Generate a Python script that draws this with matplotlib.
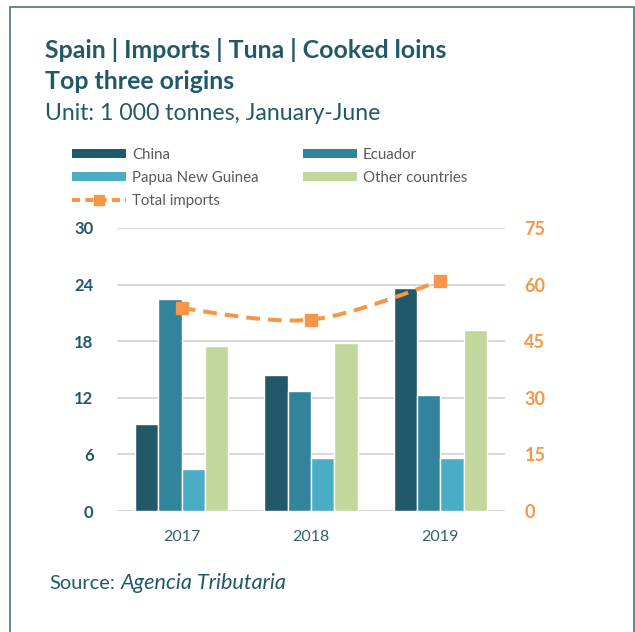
import matplotlib
matplotlib.use('Agg')
import matplotlib.pyplot as plt
from matplotlib.path import Path
from matplotlib.patches import PathPatch, Rectangle, Patch
from matplotlib.lines import Line2D
import numpy as np

# ---- data ----
years = ['2017', '2018', '2019']
china = [9.2, 14.45, 23.6]
ecuador = [22.5, 12.75, 12.25]
png = [4.5, 5.65, 5.65]
other = [17.5, 17.8, 19.15]
total = [53.7, 50.7, 60.9]
left_ticks = [0, 6, 12, 18, 24, 30]
right_ticks = [0, 15, 30, 45, 60, 75]
series_names = ['China', 'Ecuador', 'Papua New Guinea', 'Other countries']

# ---- style ----
C_CHINA = '#215968'
C_ECU = '#31849b'
C_PNG = '#4bacc6'
C_OTH = '#c3d69b'
C_ORANGE = '#f79646'
C_TITLE = '#215968'
C_LEG = '#595959'
C_GRID = '#d9d9d9'

plt.rcParams['font.family'] = ['Lato', 'DejaVu Sans']

W, H = 635, 632
fig = plt.figure(figsize=(W / 100, H / 100), dpi=100)


def fx(px):
    return px / W


def fy(py):
    return 1 - py / H


ax = fig.add_axes([fx(117), fy(511), (505 - 117) / W, (511 - 228) / H])
xs = np.arange(len(years))
bw = 0.18
colors = [C_CHINA, C_ECU, C_PNG, C_OTH]
vals = [china, ecuador, png, other]
for k, (v, c, nm) in enumerate(zip(vals, colors, series_names)):
    ax.bar(xs + (k - 1.5) * bw, v, width=bw, color=c, edgecolor='white',
           linewidth=1.0, label=nm, zorder=2)

ax.set_xlim(-0.5, len(years) - 0.5)
ax.set_ylim(left_ticks[0], left_ticks[-1])
ax.set_yticks(left_ticks)
ax.set_xticks(xs)
ax.set_xticklabels(years)
ax.yaxis.grid(True, color=C_GRID, linewidth=1.5, zorder=0)
ax.set_axisbelow(True)
for s in ax.spines.values():
    s.set_visible(False)
ax.tick_params(axis='y', length=0, pad=17, labelsize=12, labelcolor=C_TITLE)
ax.tick_params(axis='x', length=0, pad=14, labelsize=11.5, labelcolor='#35606c')
for lbl in ax.get_yticklabels():
    lbl.set_fontweight('bold')

ax2 = ax.twinx()
ax2.set_ylim(right_ticks[0], right_ticks[-1])
ax2.set_yticks(right_ticks)
for s in ax2.spines.values():
    s.set_visible(False)
ax2.tick_params(axis='y', length=0, pad=14, labelsize=13, labelcolor=C_ORANGE)
for lbl in ax2.get_yticklabels():
    lbl.set_fontweight('bold')

# smoothed total line (Catmull-Rom bezier through the data points)
pts = np.column_stack([xs, total]).astype(float)
verts = [pts[0]]
codes = [Path.MOVETO]
n = len(pts)
for i in range(n - 1):
    p0 = pts[i - 1] if i > 0 else pts[i]
    p1 = pts[i]
    p2 = pts[i + 1]
    p3 = pts[i + 2] if i + 2 < n else pts[i + 1]
    verts += [p1 + (p2 - p0) / 6, p2 - (p3 - p1) / 6, p2]
    codes += [Path.CURVE4] * 3
ax2.add_patch(PathPatch(Path(verts, codes), fill=False, edgecolor=C_ORANGE,
                        linewidth=2.9, linestyle=(0, (3.4, 2.0)),
                        capstyle='butt', zorder=3))
ax2.plot(xs, total, linestyle='none', marker='s', markersize=8.5,
         color=C_ORANGE, zorder=4)

# ---- legend ----
lfs = 10.8
h_china = Patch(facecolor=C_CHINA, edgecolor='none')
h_ecu = Patch(facecolor=C_ECU, edgecolor='none')
h_png = Patch(facecolor=C_PNG, edgecolor='none')
h_oth = Patch(facecolor=C_OTH, edgecolor='none')
h_tot = Line2D([], [], color=C_ORANGE, linewidth=2.9, linestyle=(0, (2.0, 1.3)),
               marker='s', markersize=6.5)
common = dict(loc='upper left', frameon=False, fontsize=lfs, borderpad=0,
              borderaxespad=0, handlelength=3.6, handleheight=0.48,
              handletextpad=0.4, labelspacing=0.6, labelcolor=C_LEG,
              numpoints=1)
fig.legend([h_china, h_png, h_tot], ['China', 'Papua New Guinea', 'Total imports'],
           bbox_to_anchor=(fx(72), fy(148)), **common)
fig.legend([h_ecu, h_oth], ['Ecuador', 'Other countries'],
           bbox_to_anchor=(fx(303), fy(148)), **common)

# ---- titles ----
t1 = fig.text(fx(45), fy(58), 'Spain | Imports | Tuna | Cooked loins',
              fontsize=17, fontweight='bold', color=C_TITLE, va='baseline')
t2 = fig.text(fx(45), fy(89), 'Top three origins',
              fontsize=17, fontweight='bold', color=C_TITLE, va='baseline')
t3 = fig.text(fx(45), fy(120), 'Unit: 1 000 tonnes, January-June',
              fontsize=15, color=C_TITLE, va='baseline')
s1 = fig.text(fx(49), fy(589), 'Source:', fontsize=12.5, color=C_TITLE,
              va='baseline')
s2 = fig.text(fx(121), fy(589), 'Agencia Tributaria', fontsize=12.5,
              style='italic', color=C_TITLE, va='baseline')

fig.canvas.draw()
r = fig.canvas.get_renderer()


def fit(t, width_px):
    bb = t.get_window_extent(r)
    t.set_fontsize(t.get_fontsize() * width_px / bb.width)


fit(t1, 402)
t2.set_fontsize(t1.get_fontsize())
fit(t3, 336)
fit(s1, 66)
fit(s2, 167)

# frame
fig.add_artist(Rectangle((fx(10), fy(660)), (634 - 10) / W, (660 - 7) / H,
                         transform=fig.transFigure, fill=False,
                         edgecolor='#4a7380', linewidth=1.2))

fig.savefig('out.png', dpi=100)
